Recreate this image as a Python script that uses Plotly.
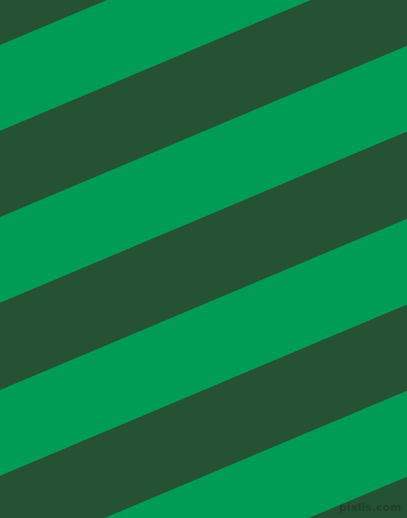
import plotly.graph_objects as go

boundaries = [-41, 45, 131, 217, 303, 390, 476, 562, 648]
slope = 0.421  # rise per px going right
stripe_colors = ["#265234", "#009c56"]  # dark green, green
width, height = 407, 518

fig = go.Figure()
for i in range(len(boundaries) - 1):
    b0, b1 = boundaries[i], boundaries[i + 1]
    xs = [0, width, width, 0, 0]
    ys = [b0, b0 - slope * width, b1 - slope * width, b1, b0]
    color = stripe_colors[i % 2]
    fig.add_trace(go.Scatter(x=xs, y=ys, mode="lines", fill="toself",
                             fillcolor=color, line=dict(width=0, color=color),
                             hoverinfo="skip", showlegend=False))

fig.add_annotation(text="<b>pixlis.com</b>", xref="x", yref="y", x=404, y=507,
                   xanchor="right", yanchor="middle", showarrow=False,
                   font=dict(family="DejaVu Sans", size=11, color="#1e4029"))

fig.update_xaxes(range=[0, width], visible=False, fixedrange=True)
fig.update_yaxes(range=[height, 0], visible=False, fixedrange=True)
fig.update_layout(width=width, height=height, margin=dict(l=0, r=0, t=0, b=0),
                  paper_bgcolor="#265234", plot_bgcolor="#265234")

fig.write_html("out.html", config={"displayModeBar": False},
               post_script="document.body.style.margin='0';")
